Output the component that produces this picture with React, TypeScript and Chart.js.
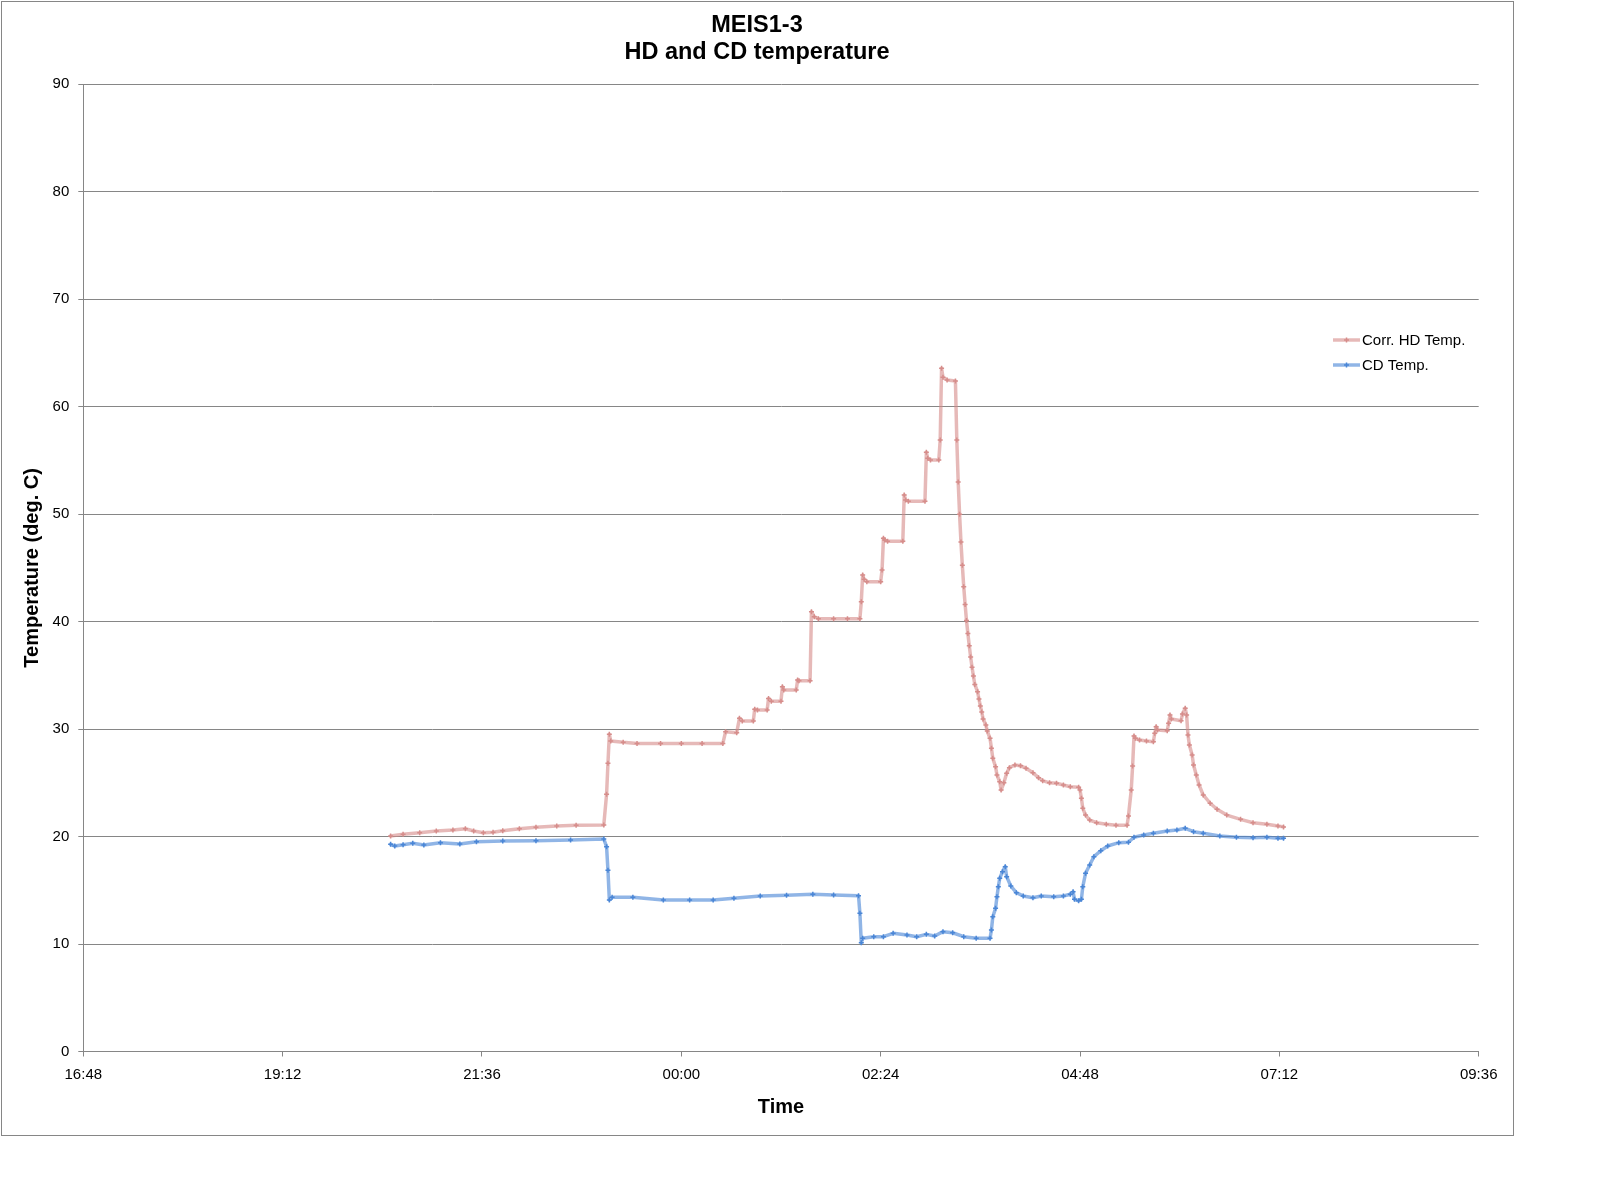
import React, { useEffect, useRef } from "react";
import { Chart, registerables } from "chart.js";

Chart.register(...registerables);

const TITLE_LINES = ["MEIS1-3", "HD and CD temperature"];
const X_TITLE = "Time";
const Y_TITLE = "Temperature (deg. C)";
const X_TICK_LABELS = ["16:48", "19:12", "21:36", "00:00", "02:24", "04:48", "07:12", "09:36"];
const Y_MIN = 0;
const Y_MAX = 90;
const Y_STEP = 10;
const HD_LABEL = "Corr. HD Temp.";
const CD_LABEL = "CD Temp.";

const HD_TIMES = [
  "20:30", "20:39", "20:51", "21:03", "21:15", "21:24", "21:30", "21:37", "21:44", "21:51",
  "22:03", "22:15", "22:30", "22:44", "23:04", "23:06", "23:07", "23:08", "23:09", "23:18",
  "23:28", "23:45", "00:00", "00:15", "00:30", "00:32", "00:40", "00:42", "00:44", "00:52",
  "00:53", "00:55", "01:02", "01:03", "01:05", "01:12", "01:13", "01:14", "01:23", "01:24",
  "01:25", "01:33", "01:34", "01:36", "01:39", "01:50", "02:00", "02:09", "02:10", "02:11",
  "02:12", "02:14", "02:24", "02:25", "02:26", "02:27", "02:29", "02:40", "02:41", "02:42",
  "02:44", "02:56", "02:57", "02:58", "03:00", "03:06", "03:07", "03:08", "03:09", "03:12",
  "03:18", "03:19", "03:20", "03:21", "03:22", "03:23", "03:24", "03:25", "03:26", "03:27",
  "03:28", "03:29", "03:30", "03:31", "03:32", "03:34", "03:35", "03:36", "03:37", "03:38",
  "03:40", "03:41", "03:43", "03:44", "03:45", "03:47", "03:48", "03:50", "03:51", "03:53",
  "03:55", "03:57", "04:01", "04:05", "04:09", "04:14", "04:18", "04:21", "04:26", "04:31",
  "04:36", "04:41", "04:47", "04:48", "04:49", "04:50", "04:52", "04:55", "05:00", "05:07",
  "05:14", "05:22", "05:23", "05:25", "05:26", "05:27", "05:28", "05:31", "05:36", "05:41",
  "05:42", "05:43", "05:44", "05:51", "05:52", "05:53", "05:54", "06:01", "06:02", "06:04",
  "06:05", "06:06", "06:07", "06:09", "06:10", "06:12", "06:14", "06:17", "06:22", "06:27",
  "06:34", "06:44", "06:53", "07:03", "07:11", "07:15",
];
const HD_VALUES = [
  20.05, 20.21, 20.36, 20.52, 20.61, 20.73, 20.52, 20.36, 20.4, 20.55,
  20.73, 20.86, 20.98, 21.05, 21.08, 23.93, 26.82, 29.52, 28.89, 28.77,
  28.67, 28.67, 28.67, 28.67, 28.67, 29.76, 29.67, 31.0, 30.75, 30.75,
  31.84, 31.78, 31.78, 32.85, 32.6, 32.6, 33.95, 33.64, 33.64, 34.57,
  34.5, 34.5, 40.92, 40.46, 40.27, 40.27, 40.27, 40.27, 41.86, 44.34,
  43.94, 43.71, 43.71, 44.8, 47.75, 47.59, 47.47, 47.47, 51.78, 51.32,
  51.2, 51.2, 55.75, 55.2, 55.04, 55.04, 56.9, 63.57, 62.73, 62.48,
  62.4, 56.9, 53.0, 50.0, 47.4, 45.24, 43.25, 41.6, 40.1, 38.9,
  37.75, 36.7, 35.75, 34.94, 34.15, 33.48, 32.8, 32.16, 31.6, 30.94,
  30.38, 29.82, 29.14, 28.21, 27.28, 26.5, 25.73, 25.1, 24.33, 25.0,
  25.89, 26.41, 26.66, 26.6, 26.35, 25.94, 25.48, 25.2, 25.0, 24.96,
  24.8, 24.64, 24.58, 24.33, 23.56, 22.63, 22.0, 21.54, 21.29, 21.14,
  21.05, 21.05, 21.91, 24.33, 26.57, 29.36, 29.14, 28.98, 28.89, 28.83,
  29.61, 30.22, 29.92, 29.85, 30.54, 31.31, 30.94, 30.78, 31.4, 31.93,
  31.31, 29.45, 28.52, 27.59, 26.66, 25.73, 24.8, 23.87, 23.1, 22.54,
  22.0, 21.6, 21.29, 21.14, 20.98, 20.9,
];

const CD_TIMES = [
  "20:30", "20:33", "20:39", "20:46", "20:54", "21:06", "21:20", "21:32", "21:51", "22:15",
  "22:40", "23:04", "23:06", "23:07", "23:08", "23:10", "23:25", "23:47", "00:06", "00:23",
  "00:38", "00:57", "01:16", "01:35", "01:50", "02:08", "02:09", "02:10", "02:11", "02:19",
  "02:26", "02:33", "02:43", "02:50", "02:57", "03:03", "03:09", "03:16", "03:24", "03:33",
  "03:43", "03:44", "03:45", "03:47", "03:48", "03:49", "03:50", "03:52", "03:54", "03:55",
  "03:58", "04:02", "04:07", "04:14", "04:20", "04:29", "04:36", "04:41", "04:43", "04:44",
  "04:47", "04:49", "04:50", "04:52", "04:55", "04:58", "05:03", "05:08", "05:16", "05:23",
  "05:27", "05:34", "05:41", "05:51", "05:58", "06:04", "06:10", "06:17", "06:29", "06:41",
  "06:53", "07:03", "07:11", "07:15",
];
const CD_VALUES = [
  19.28, 19.12, 19.24, 19.37, 19.21, 19.43, 19.31, 19.52, 19.59, 19.62,
  19.68, 19.77, 19.06, 16.86, 14.1, 14.35, 14.35, 14.1, 14.1, 14.1,
  14.26, 14.47, 14.53, 14.63, 14.56, 14.5, 12.86, 10.12, 10.53, 10.68,
  10.68, 11.0, 10.84, 10.68, 10.9, 10.75, 11.15, 11.05, 10.68, 10.53,
  10.53, 11.3, 12.54, 13.32, 14.4, 15.33, 16.12, 16.73, 17.2, 16.27,
  15.4, 14.78, 14.47, 14.31, 14.47, 14.4, 14.47, 14.63, 14.87, 14.16,
  14.03, 14.16, 15.33, 16.58, 17.35, 18.13, 18.68, 19.12, 19.43, 19.47,
  19.93, 20.14, 20.3, 20.52, 20.61, 20.77, 20.45, 20.3, 20.05, 19.93,
  19.89, 19.93, 19.84, 19.84,
];

const FONT = "'Liberation Sans', Arial, Helvetica, sans-serif";
const GRID = "#868686";

function clockToMin(s: string): number {
  const [h, m] = s.split(":").map(Number);
  return h * 60 + m;
}
const START = clockToMin(X_TICK_LABELS[0]);
function sinceStart(s: string, isLast = false): number {
  let v = clockToMin(s) - START;
  if (v < 0 || (isLast && v === 0)) v += 1440;
  return v;
}
const X_TICK_VALUES = X_TICK_LABELS.map((l, i) => (i === 0 ? 0 : sinceStart(l, i === X_TICK_LABELS.length - 1)));

const HD_COLORS = { line: "rgba(214,138,136,0.6)", mark: "#d68d8b" };
const CD_COLORS = { line: "rgba(70,132,214,0.6)", mark: "#4a86d6" };

const decorPlugin = {
  id: "decor",
  beforeDraw(chart: any) {
    const ctx = chart.ctx;
    ctx.save();
    ctx.fillStyle = "#ffffff";
    ctx.fillRect(0, 0, chart.width, chart.height);
    ctx.restore();
  },
  afterDraw(chart: any) {
    const ctx = chart.ctx;
    ctx.save();
    ctx.strokeStyle = GRID;
    ctx.lineWidth = 1;
    ctx.strokeRect(1.5, 1.5, 1512, 1134);
    ctx.fillStyle = "#000";
    ctx.font = `bold 23.5px ${FONT}`;
    ctx.textAlign = "center";
    ctx.textBaseline = "middle";
    ctx.fillText(TITLE_LINES[0], 757, 26);
    ctx.fillText(TITLE_LINES[1], 757, 53);
    const items = [
      { label: HD_LABEL, c: HD_COLORS, y: 340 },
      { label: CD_LABEL, c: CD_COLORS, y: 365 },
    ];
    ctx.font = `15px ${FONT}`;
    ctx.textAlign = "left";
    for (const it of items) {
      ctx.strokeStyle = it.c.line;
      ctx.lineWidth = 3.5;
      ctx.beginPath();
      ctx.moveTo(1333, it.y);
      ctx.lineTo(1360, it.y);
      ctx.stroke();
      ctx.strokeStyle = it.c.mark;
      ctx.lineWidth = 1.5;
      ctx.beginPath();
      ctx.moveTo(1344, it.y);
      ctx.lineTo(1349, it.y);
      ctx.moveTo(1346.5, it.y - 2.5);
      ctx.lineTo(1346.5, it.y + 2.5);
      ctx.stroke();
      ctx.fillStyle = "#000";
      ctx.fillText(it.label, 1362, it.y + 1);
    }
    ctx.restore();
  },
};

export default function App() {
  const ref = useRef<HTMLCanvasElement | null>(null);

  useEffect(() => {
    if (!ref.current) return;
    const mk = (times: string[], vals: number[]) =>
      times.map((t, i) => ({ x: sinceStart(t), y: vals[i] }));

    const common = {
      borderWidth: 3.5,
      borderJoinStyle: "round",
      borderCapStyle: "round",
      pointStyle: "cross",
      pointRadius: 2.5,
      pointBorderWidth: 1.5,
      tension: 0,
    };

    const chart = new Chart(ref.current, {
      type: "line",
      data: {
        datasets: [
          {
            ...common,
            label: HD_LABEL,
            data: mk(HD_TIMES, HD_VALUES),
            borderColor: HD_COLORS.line,
            pointBorderColor: HD_COLORS.mark,
            pointBackgroundColor: HD_COLORS.mark,
            order: 1,
          },
          {
            ...common,
            label: CD_LABEL,
            data: mk(CD_TIMES, CD_VALUES),
            borderColor: CD_COLORS.line,
            pointBorderColor: CD_COLORS.mark,
            pointBackgroundColor: CD_COLORS.mark,
            order: 0,
          },
        ],
      },
      options: {
        animation: false,
        responsive: false,
        devicePixelRatio: 1,
        layout: {
          padding: { left: 0, top: 84.3, right: 1598 - 1478.7, bottom: 1202 - 1051.5 - 70 },
        },
        plugins: {
          legend: { display: false },
          title: { display: false },
          tooltip: { enabled: false },
        },
        scales: {
          x: {
            type: "linear",
            min: X_TICK_VALUES[0],
            max: X_TICK_VALUES[X_TICK_VALUES.length - 1],
            afterBuildTicks: (s: any) => {
              s.ticks = X_TICK_VALUES.map((v) => ({ value: v }));
            },
            afterFit: (s: any) => {
              s.height = 70;
            },
            grid: { drawOnChartArea: false, drawTicks: true, tickLength: 5, color: GRID },
            border: { display: true, color: GRID, width: 1 },
            ticks: {
              color: "#000",
              font: { family: FONT, size: 15 },
              padding: 9,
              maxRotation: 0,
              autoSkip: false,
              callback: (v: any) => {
                const i = X_TICK_VALUES.indexOf(Number(v));
                return i >= 0 ? X_TICK_LABELS[i] : "";
              },
            },
            title: {
              display: true,
              text: X_TITLE,
              color: "#000",
              font: { family: FONT, size: 20, weight: "bold" },
              padding: { top: 0, bottom: 2.5 },
            },
          },
          y: {
            min: Y_MIN,
            max: Y_MAX,
            afterFit: (s: any) => {
              s.width = 83.3;
            },
            grid: { color: GRID, tickLength: 5, drawTicks: true },
            border: { display: true, color: GRID, width: 1 },
            ticks: {
              stepSize: Y_STEP,
              color: "#000",
              font: { family: FONT, size: 15 },
              padding: 9,
            },
            title: {
              display: true,
              text: Y_TITLE,
              color: "#000",
              font: { family: FONT, size: 20, weight: "bold" },
              padding: { top: 20, bottom: 0 },
            },
          },
        },
      },
      plugins: [decorPlugin],
    } as any);
    return () => chart.destroy();
  }, []);

  return (
    <div style={{ position: "absolute", left: 0, top: 0, width: 1598, height: 1202, background: "#fff" }}>
      <canvas ref={ref} width={1598} height={1202} style={{ width: 1598, height: 1202, display: "block" }} />
    </div>
  );
}
